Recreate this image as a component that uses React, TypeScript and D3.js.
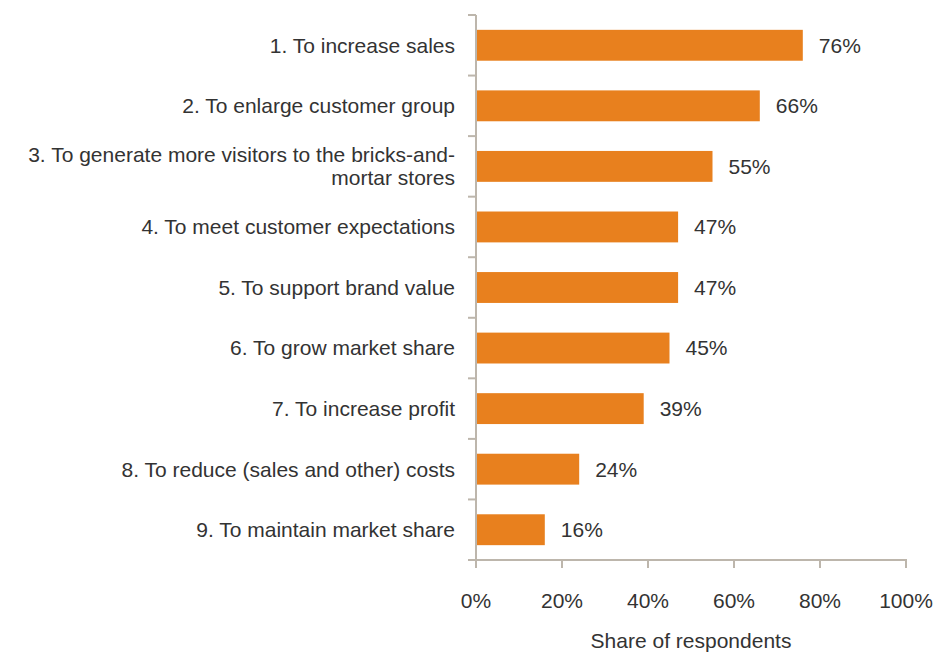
import React from "react";
import * as d3 from "d3";

const categories: string[][] = [
  ["1. To increase sales"],
  ["2. To enlarge customer group"],
  ["3. To generate more visitors to the bricks-and-", "mortar stores"],
  ["4. To meet customer expectations"],
  ["5. To support brand value"],
  ["6. To grow market share"],
  ["7. To increase profit"],
  ["8. To reduce (sales and other) costs"],
  ["9. To maintain market share"],
];
const values: number[] = [76, 66, 55, 47, 47, 45, 39, 24, 16];
const xTicks: number[] = [0, 20, 40, 60, 80, 100];
const axisTitle = "Share of respondents";

const W = 950;
const H = 653;
const left = 476;
const right = 906;
const top = 15;
const bottom = 560;
const FONT = "Liberation Sans, Arial, Helvetica, sans-serif";
const AXIS = "#bdb6ac";
const TEXT = "#333333";
const BAR = "#e8801e";
const FS = 21;

export default function App() {
  const ids = categories.map((_, i) => String(i));
  const y = d3.scaleBand<string>().domain(ids).range([top, bottom]).paddingInner(0.49).paddingOuter(0.245);
  const x = d3.scaleLinear().domain([0, 100]).range([left, right]);
  const band = (bottom - top) / categories.length;
  const boundaries = d3.range(categories.length + 1).map((i) => top + i * band);

  return (
    <svg width={W} height={H} style={{ position: "absolute", left: 0, top: 0, background: "#fff" }} fontFamily={FONT}>
      {categories.map((lines, i) => {
        const cy = (y(ids[i]) as number) + y.bandwidth() / 2;
        const lh = 23;
        const start = cy - ((lines.length - 1) * lh) / 2;
        return (
          <g key={i}>
            <rect x={x(0)} y={y(ids[i])} width={x(values[i]) - x(0)} height={y.bandwidth()} fill={BAR} />
            <text x={455} textAnchor="end" fontSize={FS} fill={TEXT}>
              {lines.map((l, j) => (
                <tspan key={j} x={455} y={start + j * lh} dy="0.35em">{l}</tspan>
              ))}
            </text>
            <text x={x(values[i]) + 16} y={cy} dy="0.35em" fontSize={FS} fill={TEXT}>
              {values[i]}%
            </text>
          </g>
        );
      })}
      <line x1={left} x2={left} y1={top} y2={bottom} stroke={AXIS} strokeWidth={2} />
      {boundaries.map((b, i) => (
        <line key={i} x1={left - 8} x2={left} y1={b} y2={b} stroke={AXIS} strokeWidth={2} />
      ))}
      <line x1={left - 8} x2={right + 1} y1={bottom} y2={bottom} stroke={AXIS} strokeWidth={2} />
      {xTicks.map((t) => (
        <g key={t}>
          <line x1={x(t)} x2={x(t)} y1={bottom} y2={bottom + 8} stroke={AXIS} strokeWidth={2} />
          <text x={x(t)} y={601} dy="0.35em" textAnchor="middle" fontSize={FS} fill={TEXT}>
            {t}%
          </text>
        </g>
      ))}
      <text x={x(50)} y={641} dy="0.35em" textAnchor="middle" fontSize={FS} fill={TEXT}>
        {axisTitle}
      </text>
    </svg>
  );
}
